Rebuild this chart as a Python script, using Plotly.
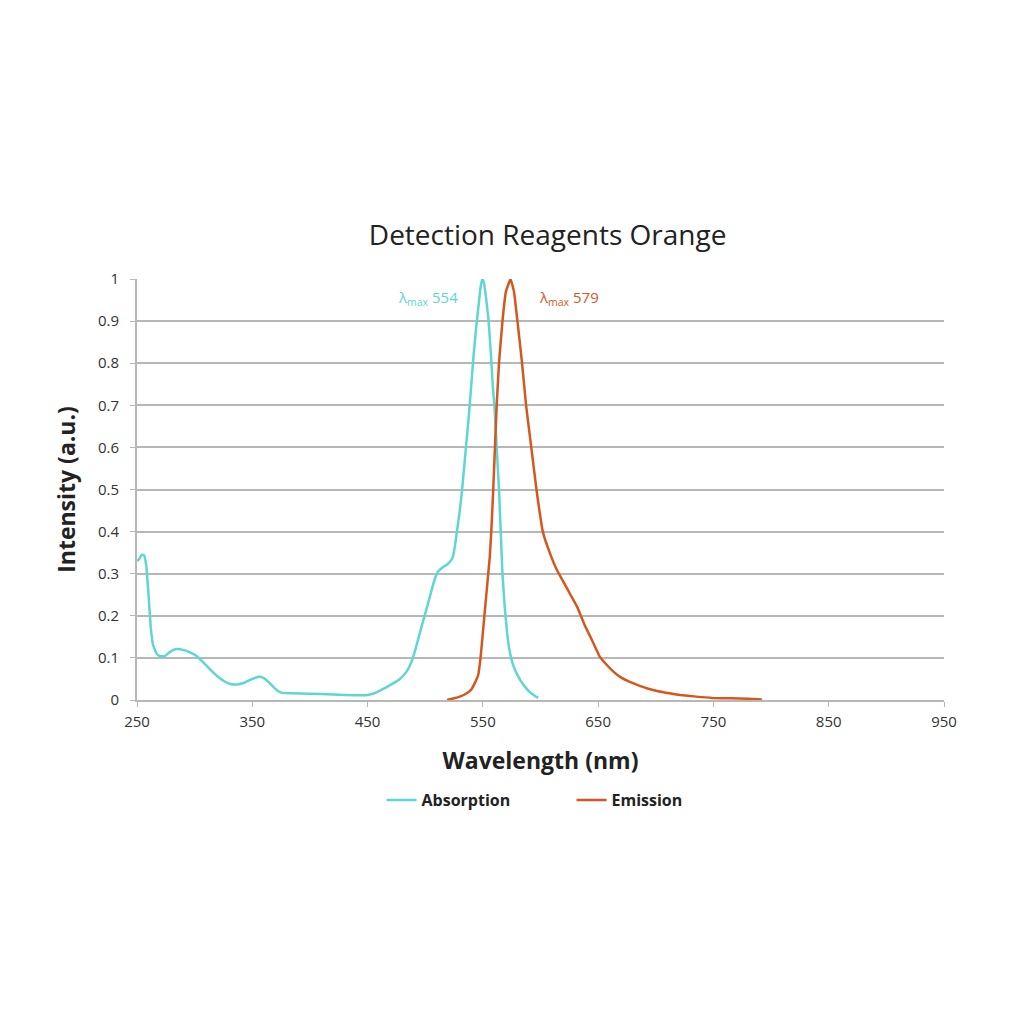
import plotly.graph_objs as go

# Absorption spectrum
abs_wavelength = [250, 252, 254, 256, 258, 260, 262, 264, 267, 270, 274, 279, 284, 290, 296,
                  302, 308, 314, 320, 326, 331, 337, 343, 350, 356, 360, 364, 368, 372, 376,
                  385, 400, 420, 440, 450, 456, 462, 470, 478, 484, 488, 492, 496, 500, 504,
                  508, 511, 515, 519, 522, 524, 526, 528, 530, 532, 534, 536, 538, 540, 542,
                  544, 546, 548, 549.5, 551, 553, 555, 557, 558.5, 560, 562, 564, 565.5, 567,
                  569, 571, 573, 576, 579, 583, 587, 591, 595, 598]
abs_intensity = [0.33, 0.335, 0.345, 0.344, 0.32, 0.25, 0.17, 0.13, 0.11, 0.104, 0.104, 0.115,
                 0.121, 0.119, 0.113, 0.104, 0.088, 0.071, 0.056, 0.044, 0.038, 0.037, 0.041,
                 0.050, 0.055, 0.052, 0.043, 0.032, 0.022, 0.017, 0.016, 0.015, 0.013, 0.011,
                 0.012, 0.016, 0.024, 0.036, 0.050, 0.068, 0.090, 0.125, 0.166, 0.205, 0.245,
                 0.285, 0.305, 0.315, 0.322, 0.33, 0.34, 0.37, 0.41, 0.45, 0.50, 0.56, 0.62,
                 0.68, 0.75, 0.82, 0.88, 0.93, 0.98, 1.0, 0.99, 0.95, 0.90, 0.82, 0.75, 0.70,
                 0.60, 0.50, 0.40, 0.30, 0.22, 0.16, 0.12, 0.085, 0.065, 0.045, 0.030, 0.018,
                 0.010, 0.005]

# Emission spectrum
em_wavelength = [519, 525, 530, 536, 540, 543, 546, 548, 550, 552, 554, 556, 557.5, 559, 560.5,
                 562, 564, 567, 570, 574, 577, 580, 584, 587.5, 592, 596.5, 602, 608, 614, 620,
                 626, 632, 638, 645, 651, 657, 663, 669, 676, 684, 692, 702, 712, 721, 735,
                 749, 765, 780, 792]
em_intensity = [0.0, 0.004, 0.008, 0.016, 0.025, 0.04, 0.06, 0.10, 0.16, 0.22, 0.28, 0.34,
                0.41, 0.50, 0.60, 0.70, 0.80, 0.90, 0.97, 1.0, 0.97, 0.90, 0.80, 0.70, 0.60,
                0.50, 0.40, 0.35, 0.31, 0.28, 0.25, 0.22, 0.18, 0.14, 0.105, 0.085, 0.068,
                0.055, 0.045, 0.036, 0.028, 0.021, 0.016, 0.012, 0.008, 0.005, 0.004, 0.003,
                0.001]

x_ticks = [250, 350, 450, 550, 650, 750, 850, 950]
y_ticks = [0, 0.1, 0.2, 0.3, 0.4, 0.5, 0.6, 0.7, 0.8, 0.9, 1]
y_tick_labels = ["0", "0.1", "0.2", "0.3", "0.4", "0.5", "0.6", "0.7", "0.8", "0.9", "1"]

peak_labels = ["λ<sub>max</sub> 554", "λ<sub>max</sub> 579"]
peak_label_x = [502, 625]
peak_label_y = [0.955, 0.955]

abs_color = "#5fd6d0"
em_color = "#d4571e"
grid_color = "#b7b7b7"


def main():
    fig = go.Figure()

    # absorption first so emission sits on top
    fig.add_trace(
        go.Scatter(
            x=abs_wavelength,
            y=abs_intensity,
            mode="lines",
            name="<b>Absorption</b>",
            line=dict(color=abs_color, width=2.5, shape="spline", smoothing=0.3),
        )
    )
    fig.add_trace(
        go.Scatter(
            x=em_wavelength,
            y=em_intensity,
            mode="lines",
            name="<b>Emission</b>",
            line=dict(color=em_color, width=2.5, shape="spline", smoothing=0.3),
        )
    )

    for text, x, y, color in zip(peak_labels, peak_label_x, peak_label_y, [abs_color, em_color]):
        fig.add_annotation(
            x=x, y=y, text=text, showarrow=False,
            font=dict(size=15, color=color, family="Open Sans"),
        )

    fig.update_layout(
        width=1024,
        height=1024,
        template="simple_white",
        font=dict(family="Open Sans", color="#333333"),
        title=dict(
            text="Detection Reagents Orange",
            x=0.527, xanchor="center",
            y=0.778, yanchor="middle",
            font=dict(size=28, color="#222222", family="Open Sans"),
        ),
        margin=dict(l=129, r=88, t=271, b=332),
        showlegend=True,
        legend=dict(
            orientation="h",
            x=0.303, xanchor="left",
            y=-0.2375, yanchor="middle",
            font=dict(size=16, color="#222222", family="Open Sans"),
            entrywidth=145,
        ),
        xaxis=dict(
            range=[250, 950],
            tickvals=x_ticks,
            showgrid=False,
            showline=True,
            linecolor=grid_color,
            linewidth=2,
            ticks="outside",
            tickcolor=grid_color,
            ticklen=5,
            ticklabelstandoff=2,
            tickfont=dict(size=15, color="#333333"),
            title=dict(text="<b>Wavelength (nm)</b>", font=dict(size=23, color="#222222"), standoff=23),
        ),
        yaxis=dict(
            range=[0, 1],
            tickvals=y_ticks,
            ticktext=y_tick_labels,
            showgrid=True,
            gridcolor=grid_color,
            gridwidth=2,
            showline=True,
            linecolor=grid_color,
            linewidth=2,
            ticks="outside",
            tickcolor=grid_color,
            ticklen=5,
            ticklabelstandoff=8,
            tickfont=dict(size=15, color="#333333"),
            title=dict(text="<b>Intensity (a.u.)</b>", font=dict(size=23, color="#222222"), standoff=16),
        ),
    )

    fig.write_html("out.html")


if __name__ == "__main__":
    main()
